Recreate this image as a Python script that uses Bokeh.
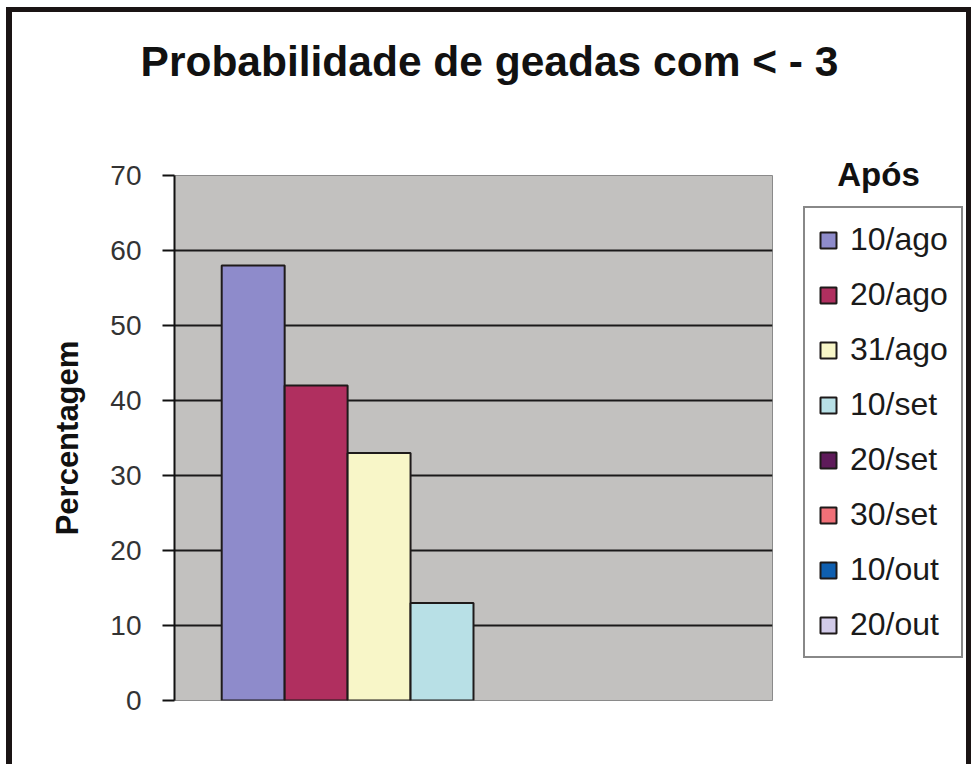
from bokeh.plotting import figure
from bokeh.layouts import column, row
from bokeh.models import (Range1d, ColumnDataSource, FixedTicker, Legend, LegendItem,
                          CDSView, BooleanFilter)
from bokeh.embed import file_html
from bokeh.resources import INLINE

# ---- data ----
chart_title = "Probabilidade de geadas com < - 3"
y_label = "Percentagem"
legend_title = "Após"
series = ["10/ago", "20/ago", "31/ago", "10/set", "20/set", "30/set", "10/out", "20/out"]
values = [58, 42, 33, 13, 0, 0, 0, 0]
y_ticks = [0, 10, 20, 30, 40, 50, 60, 70]

# ---- styles ----
colors = ["#8e8bcb", "#b02f5f", "#f8f6c8", "#b8e0e6", "#5e1a5a", "#f07078", "#0f5fb0", "#d2cbe9"]
FONT = "Liberation Sans"
EDGE = "#1e1a1a"

n = len(series)
gap = 0.75  # Excel gap width 150% -> 0.75 bar width on each side

src = ColumnDataSource(dict(x=list(range(n)), top=values, label=series, color=colors))

# ---------- title strip ----------
tf = figure(width=954, height=140, output_backend="svg", toolbar_location=None,
            x_axis_location=None, y_axis_location=None, frame_align=False,
            x_range=Range1d(0, 1), y_range=Range1d(0, 1),
            min_border_left=0, min_border_right=0, min_border_top=0, min_border_bottom=0)
tf.grid.visible = False
tf.outline_line_color = None
tf.background_fill_color = "white"
tf.title.text = chart_title
tf.title.text_font = FONT
tf.title.text_font_size = "42.5px"
tf.title.text_font_style = "bold"
tf.title.text_color = "#111111"
tf.title.align = "center"
tf.title.standoff = 47

# ---------- main chart ----------
p = figure(width=778, height=612, output_backend="svg", toolbar_location=None,
           frame_align=False,
           x_range=Range1d(-0.5 - gap, n - 0.5 + gap), y_range=Range1d(0, 70),
           min_border_left=162, min_border_right=18, min_border_top=23, min_border_bottom=64)
p.title_location = None
p.background_fill_color = "#c2c1bf"
p.border_fill_color = "white"
p.outline_line_color = "#8a8a8a"
p.outline_line_width = 1

nonzero = CDSView(filter=BooleanFilter([v > 0 for v in values]))
p.vbar(x="x", top="top", width=1, bottom=0, source=src, view=nonzero,
       fill_color="color", line_color=EDGE, line_width=2)

p.xaxis.visible = False
p.xgrid.visible = False
ya = p.yaxis[0]
ya.ticker = FixedTicker(ticks=y_ticks)
ya.axis_line_color = "#111111"
ya.axis_line_width = 2
ya.major_tick_line_color = "#111111"
ya.major_tick_line_width = 2
ya.major_tick_out = 12
ya.major_tick_in = 0
ya.minor_tick_line_color = None
ya.major_label_text_font = FONT
ya.major_label_text_font_size = "28px"
ya.major_label_text_color = "#333333"
ya.major_label_standoff = 21
ya.axis_label = y_label
ya.axis_label_text_font = FONT
ya.axis_label_text_font_size = "31px"
ya.axis_label_text_font_style = "bold"
ya.axis_label_text_color = "#111111"
ya.axis_label_standoff = 22

p.ygrid.grid_line_color = "#1a1a1a"
p.ygrid.grid_line_width = 2
p.ygrid.ticker = FixedTicker(ticks=y_ticks)

# ---------- legend panel ----------
lf = figure(width=176, height=612, output_backend="svg", toolbar_location=None,
            x_axis_location=None, y_axis_location=None, frame_align=False,
            x_range=Range1d(-0.5 - gap, n - 0.5 + gap), y_range=Range1d(0, 70),
            min_border_left=0, min_border_right=0, min_border_top=0, min_border_bottom=0)
lf.grid.visible = False
lf.outline_line_color = None
lf.background_fill_color = "white"
lf.title.text = legend_title
lf.title.text_font = FONT
lf.title.text_font_size = "33px"
lf.title.text_font_style = "bold"
lf.title.text_color = "#111111"
lf.title.align = "center"
lf.title.standoff = 3

r_leg = lf.vbar(x="x", top="top", width=1, bottom=0, source=src,
                fill_color="color", line_color=EDGE, line_width=2, visible=False)

lg = Legend(items=[LegendItem(label=s, renderers=[r_leg], index=i) for i, s in enumerate(series)],
            location=(13, 106))
lg.label_text_font = FONT
lg.label_text_font_size = "32px"
lg.label_text_color = "#1a1a1a"
lg.glyph_width = 20
lg.glyph_height = 20
lg.label_standoff = 12
lg.label_height = 37
lg.spacing = 18
lg.padding = 13
lg.margin = 0
lg.border_line_color = "#111111"
lg.border_line_width = 2
lg.background_fill_color = "white"
lg.background_fill_alpha = 1
lf.add_layout(lg)

layout = column(tf, row(p, lf))
layout.styles = {"margin-left": "6px", "margin-top": "7px",
                 "border-left": "6px solid #1a1414", "border-top": "5px solid #1a1414",
                 "border-right": "5px solid #1a1414", "background": "white"}

open("out.html", "w").write(file_html(layout, INLINE))
